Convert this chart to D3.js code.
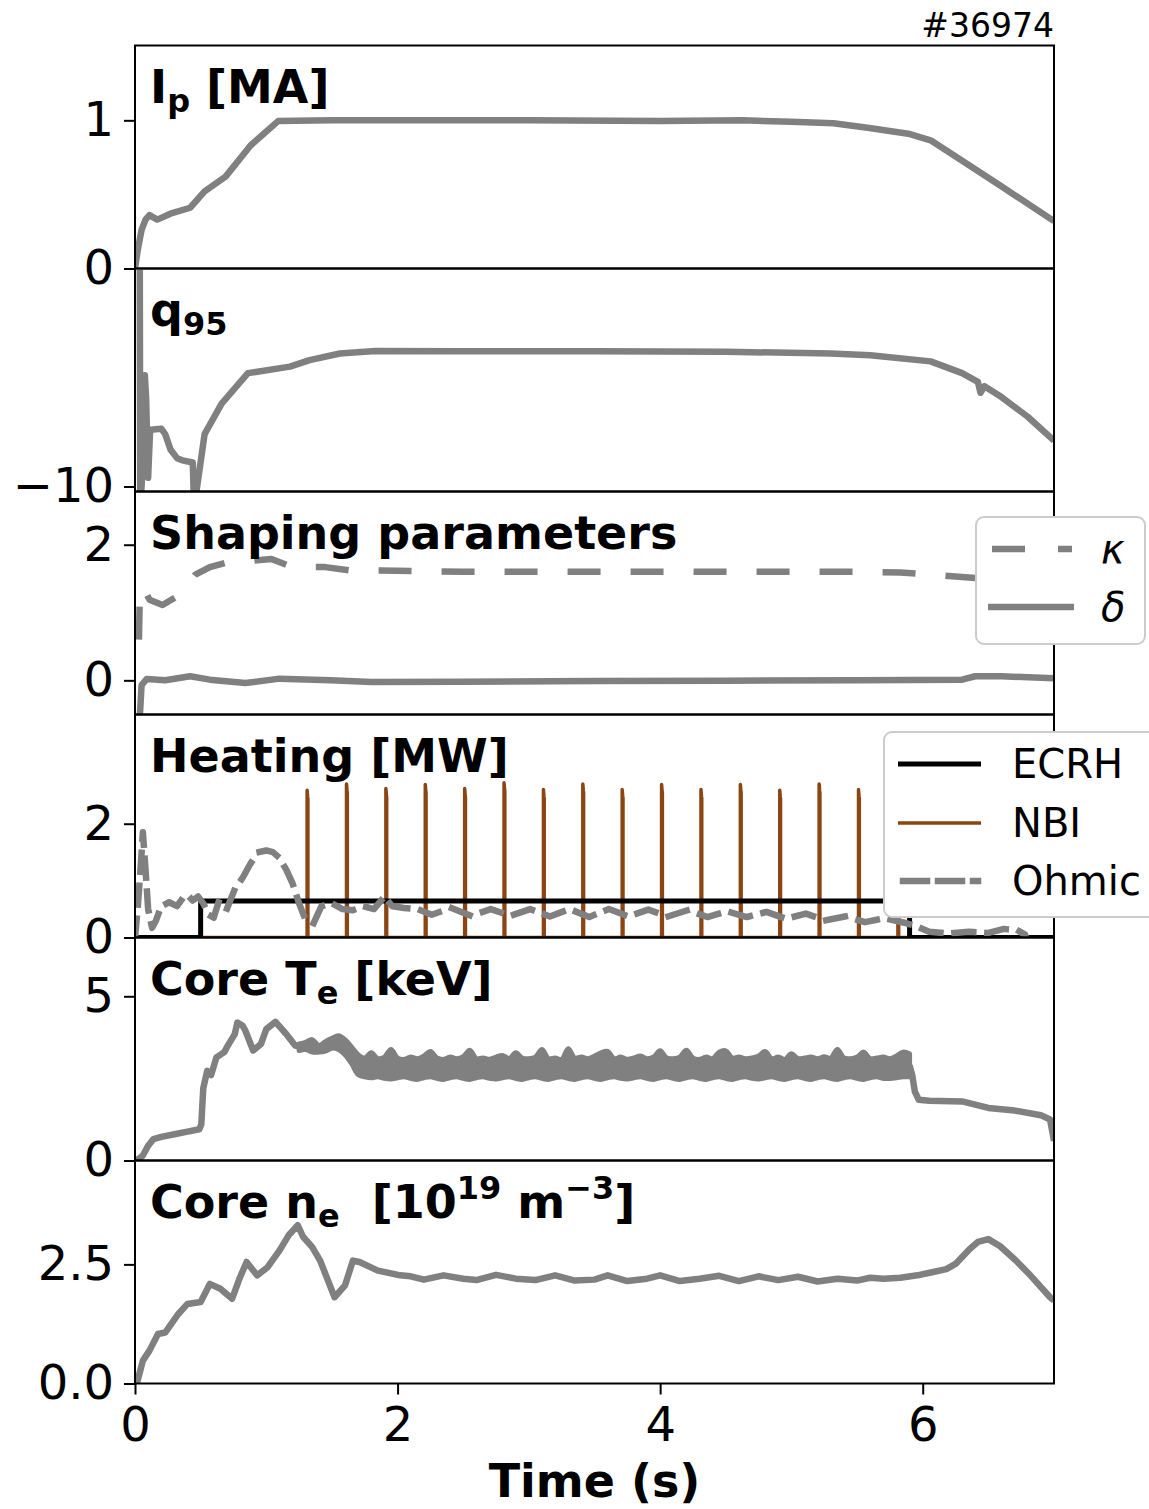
<!DOCTYPE html>
<html>
<head>
<meta charset="utf-8">
<script src="https://cdn.jsdelivr.net/npm/d3@7"></script>
<style>
  body { margin: 0; background: #fff; }
  svg text { font-family: "DejaVu Sans", sans-serif; }
</style>
</head>
<body>
<svg id="fig" width="1149" height="1509" xmlns="http://www.w3.org/2000/svg"></svg>
<script>
// ---------- Discharge #36974 time traces: [time (s), value] ----------
const shotLabel = "#36974";

const plasmaCurrent = [[0,0],[0.02,0.12],[0.05,0.26],[0.08,0.33],[0.11,0.36],[0.17,0.33],[0.27,0.37],
  [0.42,0.41],[0.53,0.52],[0.69,0.62],[0.88,0.83],[1.09,0.995],[1.5,1.0],[2.0,1.0],[3.0,1.0],[4.0,0.995],
  [4.63,1.0],[5.0,0.99],[5.32,0.98],[5.58,0.95],[5.89,0.91],[6.06,0.865],[6.21,0.78],[6.59,0.56],[7.0,0.32]];

const q95 = [[0,5],[0.035,5],[0.04,-11],[0.06,-9],[0.075,-4.9],[0.085,-6],[0.1,-9.6],[0.115,-7.4],
  [0.2,-7.35],[0.23,-7.6],[0.27,-8.3],[0.32,-8.7],[0.36,-8.8],[0.44,-8.9],[0.45,-11],[0.53,-7.6],
  [0.66,-6.2],[0.86,-4.8],[0.92,-4.75],[1.18,-4.5],[1.33,-4.2],[1.56,-3.9],[1.83,-3.79],[2.5,-3.8],
  [3.5,-3.8],[4.5,-3.82],[5.3,-3.9],[5.6,-3.98],[6.06,-4.26],[6.3,-4.8],[6.42,-5.2],[6.44,-5.7],
  [6.47,-5.4],[6.6,-5.9],[6.8,-6.8],[7.0,-7.9]];

const elongation = [[0.03,0.6],[0.035,1.09],[0.06,1.38],[0.11,1.19],[0.21,1.11],[0.34,1.26],[0.46,1.56],
  [0.57,1.67],[0.72,1.75],[0.86,1.76],[1.04,1.79],[1.2,1.67],[1.45,1.67],[1.64,1.62],[1.87,1.62],
  [2.5,1.6],[3.5,1.6],[4.5,1.6],[5.5,1.6],[5.83,1.59],[6.06,1.56],[6.4,1.51],[6.7,1.47],[7.0,1.44]];

const triangularity = [[0.035,-0.6],[0.05,-0.07],[0.09,0.02],[0.23,0.0],[0.42,0.06],[0.57,0.01],
  [0.84,-0.04],[1.1,0.025],[1.49,0.0],[1.8,-0.025],[2.5,-0.02],[3.5,-0.01],[4.5,-0.005],[5.5,0.0],
  [6.3,0.01],[6.4,0.06],[6.6,0.06],[7.0,0.03]];

const ecrhPower = [[0,0],[0.5,0],[0.5,0.64],[5.9,0.64],[5.9,0],[7,0]];

// NBI blips: start time (s) and peak power (MW)
const nbiStart = [1.311,1.611,1.911,2.211,2.511,2.811,3.111,3.411,3.711,4.011,4.311,4.611,4.911,5.211,5.511,5.811];
const nbiPeak  = [2.59,2.70,2.62,2.69,2.62,2.72,2.60,2.70,2.60,2.69,2.60,2.69,2.59,2.70,2.60,2.66];

const ohmicPower = [[0,0],[0.02,0.5],[0.045,1.3],[0.06,1.85],[0.08,1.2],[0.1,0.5],[0.13,0.17],[0.16,0.3],
  [0.2,0.55],[0.26,0.62],[0.32,0.55],[0.36,0.68],[0.4,0.75],[0.44,0.65],[0.48,0.72],[0.52,0.6],[0.56,0.4],
  [0.6,0.35],[0.64,0.65],[0.7,0.5],[0.76,0.85],[0.82,1.05],[0.88,1.3],[0.94,1.5],[1.0,1.53],[1.05,1.5],
  [1.1,1.4],[1.15,1.2],[1.2,0.95],[1.25,0.6],[1.3,0.3],[1.36,0.25],[1.42,0.55],[1.5,0.6],[1.58,0.5],
  [1.66,0.48],[1.74,0.55],[1.82,0.5],[1.9,0.72],[1.96,0.55],[2.05,0.52],[2.15,0.5],[2.26,0.4],[2.41,0.52],
  [2.56,0.38],[2.71,0.5],[2.86,0.38],[3.01,0.5],[3.16,0.37],[3.31,0.5],[3.46,0.36],[3.61,0.5],[3.76,0.37],
  [3.91,0.49],[4.06,0.37],[4.21,0.48],[4.36,0.36],[4.51,0.46],[4.66,0.36],[4.81,0.45],[4.96,0.33],
  [5.11,0.42],[5.26,0.3],[5.41,0.37],[5.56,0.27],[5.71,0.34],[5.86,0.26],[5.95,0.2],[6.05,0.1],
  [6.2,0.07],[6.35,0.1],[6.5,0.08],[6.62,0.15],[6.72,0.13],[6.78,0.05],[6.82,-0.3]];

const teRampUp = [[0,0],[0.03,0.05],[0.06,0.15],[0.1,0.45],[0.14,0.65],[0.2,0.72],[0.3,0.8],[0.4,0.88],
  [0.49,0.95],[0.505,1.1],[0.52,2.2],[0.55,2.73],[0.58,2.6],[0.62,3.14],[0.68,3.3],[0.7,3.45],[0.76,3.85],
  [0.78,4.2],[0.82,4.1],[0.84,3.96],[0.9,3.35],[0.96,3.55],[1.0,4.0],[1.07,4.22],[1.15,3.86],[1.22,3.5],
  [1.28,3.45]];

// flat-top fluctuation band: [time, lower, upper]
const teFlatTop = [[1.25,3.35,3.55],[1.30,3.38,3.6],[1.35,3.3,3.68],[1.40,3.3,3.5],[1.45,3.33,3.62],
  [1.50,3.42,3.72],[1.55,3.38,3.8],[1.60,3.22,3.68],[1.65,2.95,3.45],[1.70,2.62,3.22],[1.75,2.55,3.12],
  [1.80,2.52,3.28],[1.85,2.55,3.1],[1.90,2.5,3.15],[1.95,2.48,3.38],[2.00,2.52,3.12],[2.05,2.55,3.08],
  [2.10,2.5,3.15],[2.15,2.47,3.1],[2.20,2.52,3.18],[2.25,2.55,3.32],[2.30,2.5,3.12],[2.35,2.47,3.08],
  [2.40,2.52,3.15],[2.45,2.55,3.1],[2.50,2.5,3.16],[2.55,2.47,3.36],[2.60,2.52,3.1],[2.65,2.55,3.12],
  [2.70,2.5,3.08],[2.75,2.48,3.15],[2.80,2.52,3.2],[2.85,2.55,3.1],[2.90,2.5,3.28],[2.95,2.47,3.12],
  [3.00,2.52,3.1],[3.05,2.55,3.15],[3.10,2.5,3.38],[3.15,2.47,3.1],[3.20,2.52,3.12],[3.25,2.55,3.08],
  [3.30,2.5,3.4],[3.35,2.47,3.12],[3.40,2.52,3.15],[3.45,2.55,3.1],[3.50,2.5,3.18],[3.55,2.47,3.28],
  [3.60,2.52,3.32],[3.65,2.55,3.1],[3.70,2.5,3.15],[3.75,2.48,3.08],[3.80,2.52,3.12],[3.85,2.55,3.18],
  [3.90,2.5,3.1],[3.95,2.47,3.15],[4.00,2.52,3.34],[4.05,2.55,3.12],[4.10,2.5,3.1],[4.15,2.47,3.15],
  [4.20,2.52,3.36],[4.25,2.55,3.12],[4.30,2.5,3.08],[4.35,2.47,3.15],[4.40,2.52,3.1],[4.45,2.55,3.3],
  [4.50,2.5,3.34],[4.55,2.47,3.12],[4.60,2.52,3.15],[4.65,2.55,3.1],[4.70,2.5,3.12],[4.75,2.48,3.18],
  [4.80,2.52,3.32],[4.85,2.55,3.1],[4.90,2.5,3.15],[4.95,2.47,3.08],[5.00,2.52,3.25],[5.05,2.55,3.1],
  [5.10,2.5,3.12],[5.15,2.47,3.15],[5.20,2.52,3.1],[5.25,2.55,3.16],[5.30,2.5,3.12],[5.35,2.47,3.38],
  [5.40,2.52,3.12],[5.45,2.55,3.1],[5.50,2.5,3.15],[5.55,2.47,3.3],[5.60,2.52,3.1],[5.65,2.55,3.12],
  [5.70,2.5,3.15],[5.75,2.5,3.1],[5.80,2.52,3.18],[5.85,2.55,3.3],[5.90,2.55,3.25]];

const teRampDown = [[5.9,2.9],[5.92,2.6],[5.94,2.1],[5.97,1.85],[6.05,1.82],[6.3,1.8],[6.4,1.7],
  [6.5,1.6],[6.7,1.52],[6.9,1.38],[6.97,1.25],[7.0,0.6]];

const coreDensity = [[0,0],[0.02,0.06],[0.06,0.48],[0.11,0.69],[0.175,1.04],[0.23,1.07],[0.33,1.46],
  [0.4,1.67],[0.5,1.71],[0.57,2.09],[0.65,1.99],[0.74,1.78],[0.8,2.23],[0.85,2.55],[0.93,2.27],
  [1.01,2.44],[1.1,2.79],[1.17,3.11],[1.24,3.32],[1.28,3.08],[1.35,2.86],[1.41,2.58],[1.49,2.02],
  [1.52,1.81],[1.6,2.06],[1.66,2.58],[1.71,2.55],[1.85,2.37],[2.02,2.27],[2.1,2.25],[2.2,2.18],
  [2.35,2.27],[2.5,2.2],[2.6,2.17],[2.75,2.28],[2.9,2.2],[3.05,2.17],[3.2,2.27],[3.35,2.16],[3.5,2.18],
  [3.6,2.27],[3.75,2.15],[3.9,2.2],[4.0,2.27],[4.15,2.15],[4.3,2.2],[4.45,2.26],[4.6,2.15],[4.75,2.25],
  [4.9,2.17],[5.05,2.24],[5.2,2.14],[5.35,2.2],[5.5,2.16],[5.6,2.22],[5.7,2.2],[5.83,2.22],[5.96,2.27],
  [6.08,2.34],[6.18,2.4],[6.25,2.51],[6.36,2.83],[6.42,2.97],[6.5,3.03],[6.59,2.88],[6.71,2.58],
  [6.82,2.27],[6.97,1.81],[7.0,1.74]];

// axis tick values per panel
const xTicks = [0, 2, 4, 6];
const ipTicks = [0, 1];
const q95Ticks = [-10];
const shapeTicks = [0, 2];
const heatTicks = [0, 2];
const teTicks = [0, 5];
const neTicks = [0, 2.5];

// ---------- layout ----------
const GRAY = "#808080", BROWN = "#8b4513";
const LW = 6.5;
const LEFT = 135, RIGHT = 1054, TOP = 45.5, PH = 223;
const fig = d3.select("#fig");
const x = d3.scaleLinear().domain([0, 7]).range([LEFT, RIGHT]);

const panels = [];
function makePanel(i, domain, ticks, fmt) {
  const y0 = TOP + i * PH;
  const y = d3.scaleLinear().domain(domain).range([y0 + PH, y0]);
  const g = fig.append("g");
  fig.append("clipPath").attr("id", "clip" + i)
    .append("rect").attr("x", LEFT).attr("y", y0).attr("width", RIGHT - LEFT).attr("height", PH);
  const plot = g.append("g").attr("clip-path", `url(#clip${i})`);
  const ax = g.append("g").attr("transform", `translate(${LEFT},0)`)
    .call(d3.axisLeft(y).tickValues(ticks).tickFormat(fmt).tickSize(11).tickPadding(10));
  ax.select(".domain").remove();
  ax.selectAll(".tick line").attr("stroke", "#000").attr("stroke-width", 2);
  ax.selectAll(".tick text").attr("font-size", 48).attr("fill", "#000")
    .attr("font-family", "DejaVu Sans");
  const p = { y, plot, g, y0 };
  panels.push(p);
  return p;
}

const intFmt = d3.format("d");
const pIp = makePanel(0, [0, 1.505], ipTicks, intFmt);
const pQ = makePanel(1, [-10.23, 0], q95Ticks, intFmt);
const pS = makePanel(2, [-0.504, 2.785], shapeTicks, intFmt);
const pH = makePanel(3, [0, 3.92], heatTicks, intFmt);
const pT = makePanel(4, [0, 6.79], teTicks, intFmt);
const pN = makePanel(5, [0, 4.68], neTicks, d3.format(".1f"));

function trace(p, data, opts) {
  const line = d3.line().x(d => x(d[0])).y(d => p.y(d[1]));
  const path = p.plot.append("path").datum(data)
    .attr("d", line)
    .attr("fill", "none")
    .attr("stroke", opts.color || GRAY)
    .attr("stroke-width", opts.width || LW)
    .attr("stroke-linejoin", "round")
    .attr("stroke-linecap", opts.cap || "butt");
  if (opts.dash) path.attr("stroke-dasharray", opts.dash);
  return path;
}

// Ip
trace(pIp, plasmaCurrent, {});
// q95
trace(pQ, q95, {});
// shaping
trace(pS, elongation, { dash: "33,30" });
trace(pS, triangularity, {});
// heating
const nbiTrace = [[0, 0]];
nbiStart.forEach((t, k) => {
  const h = nbiPeak[k];
  nbiTrace.push([t, 0], [t, h], [t + 0.004, h - 0.12], [t + 0.006, h - 0.15], [t + 0.006, 0]);
});
nbiTrace.push([7, 0]);
trace(pH, nbiTrace, { color: BROWN, width: 3.5 });
trace(pH, ecrhPower, { color: "#000", width: 5 });
trace(pH, ohmicPower, { dash: "19,14", cap: "square", width: LW });
// core Te
trace(pT, teRampUp, {});
pT.plot.append("path").datum(teFlatTop)
  .attr("d", d3.area().x(d => x(d[0])).y0(d => pT.y(d[1])).y1(d => pT.y(d[2])).curve(d3.curveCatmullRom))
  .attr("fill", GRAY).attr("stroke", GRAY).attr("stroke-width", 5).attr("stroke-linejoin", "round");
trace(pT, teRampDown, {});
// core ne
trace(pN, coreDensity, {});

// frames on top of traces
panels.forEach(p => {
  p.g.append("rect").attr("x", LEFT).attr("y", p.y0).attr("width", RIGHT - LEFT).attr("height", PH)
    .attr("fill", "none").attr("stroke", "#000").attr("stroke-width", 2);
});

// time axis
const xa = fig.append("g").attr("transform", `translate(0,${TOP + 6 * PH})`)
  .call(d3.axisBottom(x).tickValues(xTicks).tickFormat(intFmt).tickSize(11).tickPadding(12));
xa.select(".domain").remove();
xa.selectAll(".tick line").attr("stroke", "#000").attr("stroke-width", 2);
xa.selectAll(".tick text").attr("font-size", 48).attr("fill", "#000").attr("font-family", "DejaVu Sans");

fig.append("text").attr("x", (LEFT + RIGHT) / 2).attr("y", 1497).attr("text-anchor", "middle")
  .attr("font-size", 46).attr("font-weight", "bold").text("Time (s)");

fig.append("text").attr("x", RIGHT).attr("y", 37).attr("text-anchor", "end")
  .attr("font-size", 33).text(shotLabel);

// panel titles: parts are [text, "n" | "sub" | "sup"]
function panelTitle(p, parts) {
  const t = fig.append("text").attr("x", 150).attr("y", p.y0 + 57)
    .attr("font-size", 46).attr("font-weight", "bold").attr("xml:space", "preserve")
    .style("white-space", "pre");
  let cur = 0;
  parts.forEach(([s, kind]) => {
    const target = kind === "sub" ? 9 : kind === "sup" ? -19 : 0;
    const ts = t.append("tspan").attr("dy", target - cur).text(s);
    if (kind !== "n") ts.attr("font-size", 32);
    cur = target;
  });
}
panelTitle(pIp, [["I", "n"], ["p", "sub"], [" [MA]", "n"]]);
panelTitle(pQ, [["q", "n"], ["95", "sub"]]);
panelTitle(pS, [["Shaping parameters", "n"]]);
panelTitle(pH, [["Heating [MW]", "n"]]);
panelTitle(pT, [["Core T", "n"], ["e", "sub"], [" [keV]", "n"]]);
panelTitle(pN, [["Core n", "n"], ["e", "sub"], ["  [10", "n"], ["19", "sup"], [" m", "n"], ["\u22123", "sup"], ["]", "n"]]);

// legends
function legend(box, items) {
  const g = fig.append("g");
  g.append("rect").attr("x", box.x).attr("y", box.y).attr("width", box.w).attr("height", box.h)
    .attr("rx", 8).attr("fill", "#fff").attr("stroke", "#cccccc").attr("stroke-width", 2);
  items.forEach(it => {
    const l = g.append("line").attr("x1", it.x1).attr("x2", it.x2).attr("y1", it.y).attr("y2", it.y)
      .attr("stroke", it.color).attr("stroke-width", it.width).attr("stroke-linecap", it.cap || "butt");
    if (it.dash) l.attr("stroke-dasharray", it.dash);
    const tx = g.append("text").attr("x", box.tx).attr("y", it.y + 14).attr("font-size", 40).text(it.label);
    if (it.italic) tx.attr("font-style", "italic");
  });
}
legend({ x: 976, y: 517, w: 169, h: 127, tx: 1101 }, [
  { label: "\u03ba", y: 549, x1: 992, x2: 1072, color: GRAY, width: LW, dash: "33,33", italic: true },
  { label: "\u03b4", y: 607, x1: 988, x2: 1074, color: GRAY, width: LW, italic: true }
]);
legend({ x: 884, y: 732, w: 300, h: 185, tx: 1012 }, [
  { label: "ECRH", y: 764, x1: 898, x2: 981, color: "#000", width: 5 },
  { label: "NBI", y: 823, x1: 898, x2: 981, color: BROWN, width: 3.5 },
  { label: "Ohmic", y: 881, x1: 903, x2: 978, color: GRAY, width: LW, dash: "24,11", cap: "square" }
]);
</script>
</body>
</html>
